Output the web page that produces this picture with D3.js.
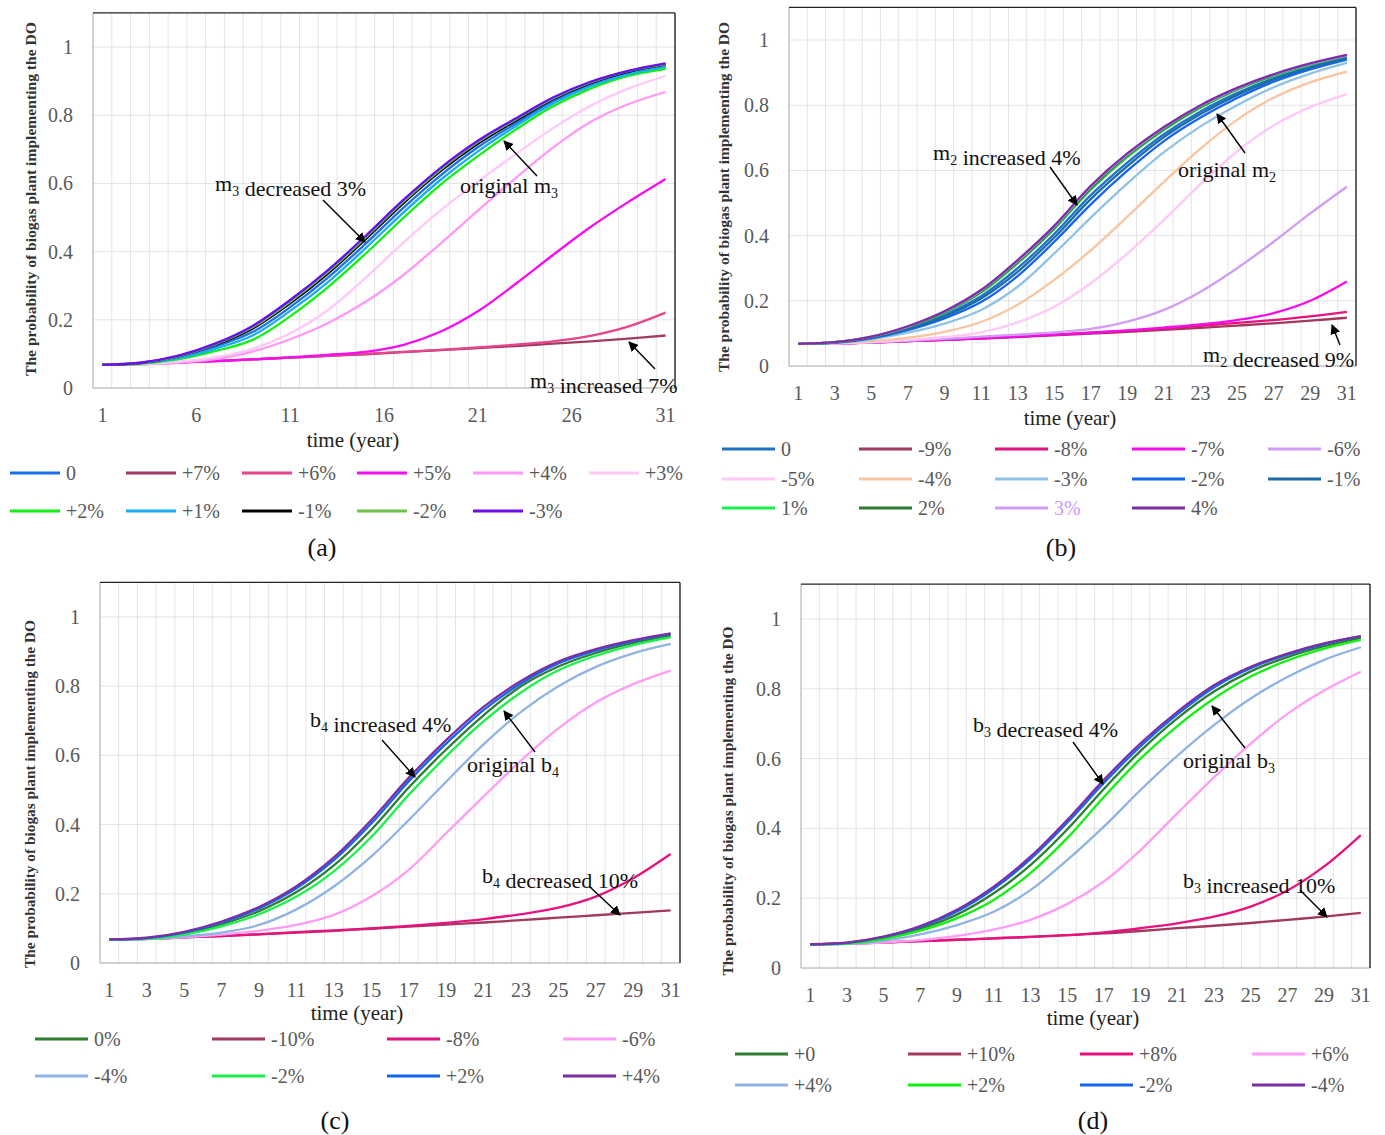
<!DOCTYPE html>
<meta charset="utf-8">
<style>
body { margin: 0; background: #fff; }
text { font-family: "Liberation Serif", "Times New Roman", serif; }
</style>
<svg width="1385" height="1135"></svg>
<script src="https://d3js.org/d3.v7.min.js"></script>
<script>

// ---- data ----
const categories = [1, 2, 3, 4, 5, 6, 7, 8, 9, 10, 11, 12, 13, 14, 15, 16, 17, 18, 19, 20, 21, 22, 23, 24, 25, 26, 27, 28, 29, 30, 31];
const years = [1, 3, 5, 7, 9, 11, 13, 15, 17, 19, 21, 23, 25, 27, 29, 31];
const yTicks = [0, 0.2, 0.4, 0.6, 0.8, 1];
const yTickLabels = ['0', '0.2', '0.4', '0.6', '0.8', '1'];
const xTicksA = [1, 6, 11, 16, 21, 26, 31];
const xTicksOdd = [1, 3, 5, 7, 9, 11, 13, 15, 17, 19, 21, 23, 25, 27, 29, 31];

// (a) m3
const labelsA = ['0', '+7%', '+6%', '+5%', '+4%', '+3%', '+2%', '+1%', '-1%', '-2%', '-3%'];
const valuesA = [
	[0.068, 0.073, 0.09, 0.121, 0.164, 0.237, 0.323, 0.422, 0.527, 0.623, 0.706, 0.775, 0.841, 0.89, 0.923, 0.945],
	[0.068, 0.071, 0.075, 0.079, 0.084, 0.089, 0.094, 0.099, 0.105, 0.111, 0.117, 0.123, 0.13, 0.137, 0.145, 0.154],
	[0.068, 0.071, 0.075, 0.079, 0.084, 0.089, 0.094, 0.1, 0.106, 0.112, 0.119, 0.127, 0.137, 0.153, 0.18, 0.221],
	[0.068, 0.07, 0.074, 0.079, 0.084, 0.09, 0.097, 0.106, 0.126, 0.165, 0.225, 0.305, 0.39, 0.472, 0.545, 0.613],
	[0.068, 0.069, 0.074, 0.085, 0.107, 0.143, 0.19, 0.252, 0.33, 0.423, 0.52, 0.615, 0.705, 0.78, 0.832, 0.868],
	[0.068, 0.07, 0.077, 0.09, 0.115, 0.16, 0.228, 0.322, 0.425, 0.52, 0.605, 0.685, 0.762, 0.828, 0.878, 0.915],
	[0.068, 0.071, 0.084, 0.108, 0.141, 0.21, 0.295, 0.393, 0.497, 0.596, 0.68, 0.757, 0.826, 0.878, 0.915, 0.936],
	[0.068, 0.072, 0.087, 0.115, 0.154, 0.226, 0.31, 0.409, 0.513, 0.61, 0.694, 0.767, 0.834, 0.885, 0.92, 0.942],
	[0.068, 0.073, 0.092, 0.126, 0.174, 0.248, 0.335, 0.435, 0.54, 0.635, 0.716, 0.783, 0.847, 0.894, 0.927, 0.949],
	[0.068, 0.074, 0.093, 0.128, 0.178, 0.253, 0.34, 0.44, 0.545, 0.64, 0.721, 0.787, 0.849, 0.896, 0.929, 0.95],
	[0.068, 0.074, 0.094, 0.13, 0.182, 0.258, 0.345, 0.445, 0.55, 0.645, 0.725, 0.79, 0.852, 0.898, 0.93, 0.952]
];

// (b) m2
const labelsB = ['0', '-9%', '-8%', '-7%', '-6%', '-5%', '-4%', '-3%', '-2%', '-1%', '1%', '2%', '3%', '4%'];
const valuesB = [
	[0.068, 0.072, 0.088, 0.116, 0.157, 0.214, 0.3, 0.405, 0.524, 0.624, 0.711, 0.781, 0.837, 0.883, 0.919, 0.947],
	[0.068, 0.069, 0.072, 0.076, 0.08, 0.084, 0.089, 0.094, 0.099, 0.105, 0.111, 0.117, 0.124, 0.131, 0.139, 0.148],
	[0.068, 0.069, 0.072, 0.076, 0.08, 0.085, 0.09, 0.096, 0.102, 0.108, 0.115, 0.123, 0.132, 0.141, 0.152, 0.166],
	[0.068, 0.069, 0.072, 0.076, 0.08, 0.085, 0.09, 0.096, 0.102, 0.109, 0.118, 0.128, 0.141, 0.162, 0.2, 0.259],
	[0.068, 0.069, 0.072, 0.077, 0.083, 0.09, 0.096, 0.103, 0.114, 0.136, 0.172, 0.228, 0.3, 0.381, 0.468, 0.55],
	[0.068, 0.069, 0.073, 0.08, 0.089, 0.103, 0.134, 0.182, 0.254, 0.345, 0.448, 0.558, 0.658, 0.738, 0.794, 0.834],
	[0.068, 0.07, 0.076, 0.087, 0.105, 0.135, 0.188, 0.264, 0.355, 0.458, 0.565, 0.667, 0.755, 0.823, 0.87, 0.903],
	[0.068, 0.071, 0.082, 0.102, 0.13, 0.172, 0.243, 0.345, 0.455, 0.56, 0.656, 0.735, 0.8, 0.855, 0.897, 0.93],
	[0.068, 0.072, 0.085, 0.11, 0.146, 0.196, 0.276, 0.381, 0.496, 0.599, 0.69, 0.762, 0.822, 0.872, 0.91, 0.94],
	[0.068, 0.072, 0.087, 0.114, 0.152, 0.207, 0.289, 0.394, 0.512, 0.613, 0.702, 0.773, 0.831, 0.878, 0.915, 0.944],
	[0.068, 0.073, 0.089, 0.12, 0.163, 0.225, 0.315, 0.42, 0.541, 0.641, 0.724, 0.792, 0.847, 0.89, 0.924, 0.951],
	[0.068, 0.073, 0.089, 0.12, 0.165, 0.228, 0.318, 0.423, 0.545, 0.645, 0.727, 0.795, 0.849, 0.892, 0.926, 0.952],
	[0.068, 0.073, 0.09, 0.121, 0.167, 0.231, 0.322, 0.427, 0.55, 0.649, 0.731, 0.798, 0.851, 0.894, 0.927, 0.953],
	[0.068, 0.073, 0.09, 0.122, 0.168, 0.233, 0.325, 0.43, 0.553, 0.652, 0.733, 0.8, 0.853, 0.895, 0.928, 0.954]
];

// (c) b4
const labelsC = ['0%', '-10%', '-8%', '-6%', '-4%', '-2%', '+2%', '+4%'];
const valuesC = [
	[0.068, 0.071, 0.085, 0.112, 0.15, 0.205, 0.282, 0.385, 0.507, 0.617, 0.716, 0.8, 0.857, 0.896, 0.925, 0.946],
	[0.068, 0.07, 0.074, 0.078, 0.083, 0.088, 0.093, 0.099, 0.105, 0.111, 0.117, 0.124, 0.131, 0.138, 0.145, 0.152],
	[0.068, 0.07, 0.074, 0.078, 0.083, 0.089, 0.094, 0.1, 0.107, 0.116, 0.127, 0.141, 0.16, 0.192, 0.245, 0.315],
	[0.068, 0.069, 0.074, 0.082, 0.093, 0.11, 0.139, 0.192, 0.269, 0.375, 0.481, 0.585, 0.678, 0.753, 0.806, 0.845],
	[0.068, 0.069, 0.077, 0.088, 0.11, 0.155, 0.221, 0.308, 0.413, 0.524, 0.632, 0.726, 0.8, 0.856, 0.895, 0.922],
	[0.068, 0.07, 0.082, 0.106, 0.141, 0.192, 0.265, 0.364, 0.486, 0.597, 0.698, 0.782, 0.846, 0.888, 0.919, 0.941],
	[0.068, 0.072, 0.088, 0.117, 0.158, 0.216, 0.297, 0.403, 0.525, 0.634, 0.731, 0.808, 0.866, 0.903, 0.93, 0.951],
	[0.068, 0.073, 0.09, 0.12, 0.162, 0.222, 0.305, 0.413, 0.535, 0.644, 0.74, 0.815, 0.871, 0.907, 0.933, 0.953]
];

// (d) b3
const labelsD = ['+0', '+10%', '+8%', '+6%', '+4%', '+2%', '-2%', '-4%'];
const valuesD = [
	[0.068, 0.071, 0.086, 0.113, 0.153, 0.214, 0.295, 0.397, 0.513, 0.622, 0.715, 0.792, 0.85, 0.891, 0.922, 0.946],
	[0.068, 0.07, 0.073, 0.077, 0.081, 0.085, 0.089, 0.094, 0.099, 0.106, 0.114, 0.121, 0.129, 0.138, 0.147, 0.158],
	[0.068, 0.07, 0.073, 0.077, 0.081, 0.085, 0.089, 0.094, 0.102, 0.114, 0.128, 0.147, 0.176, 0.222, 0.291, 0.381],
	[0.068, 0.069, 0.073, 0.08, 0.092, 0.11, 0.138, 0.183, 0.248, 0.338, 0.443, 0.546, 0.643, 0.728, 0.795, 0.849],
	[0.068, 0.069, 0.078, 0.096, 0.123, 0.161, 0.223, 0.309, 0.405, 0.51, 0.608, 0.696, 0.772, 0.834, 0.883, 0.919],
	[0.068, 0.07, 0.083, 0.107, 0.143, 0.195, 0.272, 0.372, 0.49, 0.6, 0.693, 0.772, 0.835, 0.881, 0.915, 0.94],
	[0.068, 0.072, 0.089, 0.118, 0.162, 0.227, 0.312, 0.416, 0.53, 0.636, 0.727, 0.804, 0.859, 0.898, 0.928, 0.95],
	[0.068, 0.073, 0.09, 0.12, 0.167, 0.233, 0.319, 0.424, 0.539, 0.644, 0.734, 0.81, 0.863, 0.901, 0.93, 0.951]
];

// ---- styles ----
const colorsA = ['#1a6ff0', '#a23b64', '#e8448c', '#f50cf0', '#ff99f5', '#ffc8f8', '#12f012', '#1aaef0', '#000000', '#6cc24a', '#6a0df0'];
const colorsB = ['#2070c8', '#a3385f', '#e8127f', '#f50ceb', '#d29cf5', '#ffc8f5', '#f9c4a0', '#90c2e6', '#1466f0', '#1c6ba8', '#1af04a', '#2e7d32', '#d09cf5', '#7b2fa5'];
const colorsC = ['#2e7d32', '#a3385f', '#e8127f', '#ff9cf5', '#8fb4e3', '#1af04a', '#1466f0', '#7b2fa5'];
const colorsD = ['#2e7d32', '#a3385f', '#e8127f', '#ff9cf5', '#8fb4e3', '#12f012', '#1466f0', '#7b2fa5'];

const svg = d3.select('svg');
svg.append('rect').attr('width', 1385).attr('height', 1135).attr('fill', '#fff');

svg.append('defs').append('marker')
	.attr('id', 'head')
	.attr('viewBox', '0 0 10 10')
	.attr('refX', 9).attr('refY', 5)
	.attr('markerWidth', 10).attr('markerHeight', 10)
	.attr('markerUnits', 'userSpaceOnUse')
	.attr('orient', 'auto')
	.append('path').attr('d', 'M0,0 L10,5 L0,10 Z').attr('fill', '#000');

const yTitle = 'The probability of biogas plant implementing the DO';

function panel(cfg) {
	const g = svg.append('g');
	const x = d3.scaleBand().domain(categories).range([cfg.left, cfg.right]);
	const cx = (t) => x(t) + x.bandwidth() / 2;
	const y = d3.scaleLinear().domain([0, 1.1]).range([cfg.zero, cfg.zero - 1.1 * cfg.unit]);

	// gridlines
	g.selectAll('.vg').data(categories.slice(1)).enter().append('line')
		.attr('x1', (d) => x(d)).attr('x2', (d) => x(d))
		.attr('y1', y(1.1)).attr('y2', y(0))
		.attr('stroke', '#e4e4e4');
	g.selectAll('.hg').data(yTicks.slice(1)).enter().append('line')
		.attr('x1', cfg.left).attr('x2', cfg.right)
		.attr('y1', (d) => y(d)).attr('y2', (d) => y(d))
		.attr('stroke', '#e4e4e4');

	// frame
	g.append('line').attr('x1', cfg.left).attr('x2', cfg.right).attr('y1', y(0)).attr('y2', y(0)).attr('stroke', '#a6a6a6');
	g.append('line').attr('x1', cfg.left).attr('x2', cfg.left).attr('y1', y(0)).attr('y2', y(1.1)).attr('stroke', '#a6a6a6');
	g.append('line').attr('x1', cfg.left).attr('x2', cfg.right).attr('y1', y(1.1)).attr('y2', y(1.1)).attr('stroke', '#222').attr('stroke-width', 1.4);
	g.append('line').attr('x1', cfg.right).attr('x2', cfg.right).attr('y1', y(0)).attr('y2', y(1.1)).attr('stroke', '#222').attr('stroke-width', 1.4);

	// axes (labels only)
	const ya = g.append('g').attr('transform', `translate(${cfg.left - 10},0)`)
		.call(d3.axisLeft(y).tickValues(yTicks).tickSize(0).tickPadding(10)
			.tickFormat((d, i) => yTickLabels[i]));
	const xa = g.append('g').attr('transform', `translate(0,${cfg.zero + 18})`)
		.call(d3.axisBottom(x).tickValues(cfg.xTicks).tickSize(0).tickPadding(2));
	[ya, xa].forEach((a) => {
		a.select('.domain').remove();
		a.attr('font-family', null).attr('font-size', null);
		a.selectAll('text').attr('font-size', 20).attr('fill', '#595959');
	});

	// series
	const line = d3.line()
		.x((d, i) => cx(years[i]))
		.y((d) => y(d))
		.curve(d3.curveCatmullRom.alpha(0.5));
	g.selectAll('.series').data(cfg.values).enter().append('path')
		.attr('d', line)
		.attr('fill', 'none')
		.attr('stroke', (d, i) => cfg.colors[i])
		.attr('stroke-width', 2.3)
		.attr('stroke-linejoin', 'round');

	// titles
	g.append('text')
		.attr('transform', `translate(${cfg.yTitle[0]},${cfg.yTitle[1]}) rotate(-90)`)
		.attr('text-anchor', 'middle')
		.attr('font-size', 14).attr('font-weight', 'bold').attr('fill', '#333')
		.attr('textLength', cfg.yTitle[2]).attr('lengthAdjust', 'spacingAndGlyphs')
		.text(yTitle);
	g.append('text')
		.attr('x', cfg.xTitle[0]).attr('y', cfg.xTitle[1])
		.attr('text-anchor', 'middle').attr('font-size', 21).attr('fill', '#222')
		.text('time (year)');
	g.append('text')
		.attr('x', cfg.tag[0]).attr('y', cfg.tag[1])
		.attr('text-anchor', 'middle').attr('font-size', 26).attr('fill', '#111')
		.text(cfg.tag[2]);

	// annotations
	cfg.notes.forEach((n) => {
		const t = g.append('text').attr('x', n.x).attr('y', n.y).attr('font-size', 22).attr('fill', '#111');
		n.parts.forEach((p) => {
			if (p[1]) {
				t.append('tspan').attr('font-size', 14).attr('dy', 5).text(p[0]);
				t.append('tspan').attr('dy', -5).text('');
			} else {
				t.append('tspan').text(p[0]);
			}
		});
		g.append('line')
			.attr('x1', n.arrow[0]).attr('y1', n.arrow[1])
			.attr('x2', n.arrow[2]).attr('y2', n.arrow[3])
			.attr('stroke', '#000').attr('stroke-width', 1.4)
			.attr('marker-end', 'url(#head)');
	});

	// legend
	const lg = cfg.legend;
	const item = g.selectAll('.leg').data(cfg.labels).enter().append('g')
		.attr('transform', (d, i) => `translate(${lg.cols[i % lg.cols.length]},${lg.rows[Math.floor(i / lg.cols.length)]})`);
	item.append('line')
		.attr('x1', 0).attr('x2', lg.len).attr('y1', 0).attr('y2', 0)
		.attr('stroke', (d, i) => cfg.colors[i]).attr('stroke-width', 3);
	item.append('text')
		.attr('x', lg.len + 6).attr('y', 7)
		.attr('font-size', 20)
		.attr('fill', (d) => (lg.tint && lg.tint[d]) || '#595959')
		.text((d) => d);
}

panel({
	left: 93, right: 675, zero: 388, unit: 341, xTicks: xTicksA,
	values: valuesA, colors: colorsA, labels: labelsA,
	yTitle: [36, 199, 354], xTitle: [353, 447], tag: [322, 556, '(a)'],
	legend: {cols: [10, 126, 242, 357, 473, 589], rows: [473, 511], len: 50},
	notes: [
		{parts: [['m'], ['3', 1], [' decreased 3%']], x: 215, y: 191, arrow: [323, 200, 365, 242]},
		{parts: [['original m'], ['3', 1]], x: 460, y: 193, arrow: [537, 176, 504, 141]},
		{parts: [['m'], ['3', 1], [' increased 7%']], x: 530, y: 388, arrow: [655, 369, 629, 342]}
	]
});

panel({
	left: 789, right: 1356, zero: 366, unit: 326, xTicks: xTicksOdd,
	values: valuesB, colors: colorsB, labels: labelsB,
	yTitle: [729, 197, 350], xTitle: [1070, 425], tag: [1061, 556, '(b)'],
	legend: {cols: [722, 859, 995, 1132, 1268], rows: [449, 479, 508], len: 53, tint: {'3%': '#cc99ff'}},
	notes: [
		{parts: [['m'], ['2', 1], [' increased 4%']], x: 933, y: 160, arrow: [1050, 167, 1077, 205]},
		{parts: [['original m'], ['2', 1]], x: 1178, y: 177, arrow: [1245, 153, 1217, 114]},
		{parts: [['m'], ['2', 1], [' decreased 9%']], x: 1203, y: 362, arrow: [1340, 345, 1332, 325]}
	]
});

panel({
	left: 100, right: 680, zero: 963, unit: 346, xTicks: xTicksOdd,
	values: valuesC, colors: colorsC, labels: labelsC,
	yTitle: [35, 794, 348], xTitle: [357, 1020], tag: [335, 1129, '(c)'],
	legend: {cols: [35, 212, 387, 563], rows: [1039, 1076], len: 53},
	notes: [
		{parts: [['b'], ['4', 1], [' increased 4%']], x: 310, y: 727, arrow: [382, 740, 415, 777]},
		{parts: [['original b'], ['4', 1]], x: 467, y: 772, arrow: [535, 752, 504, 711]},
		{parts: [['b'], ['4', 1], [' decreased 10%']], x: 482, y: 883, arrow: [590, 887, 620, 915]}
	]
});

panel({
	left: 801, right: 1370, zero: 968, unit: 349, xTicks: xTicksOdd,
	values: valuesD, colors: colorsD, labels: labelsD,
	yTitle: [733, 801, 349], xTitle: [1093, 1025], tag: [1093, 1129, '(d)'],
	legend: {cols: [735, 908, 1080, 1252], rows: [1054, 1085], len: 53},
	notes: [
		{parts: [['b'], ['3', 1], [' decreased 4%']], x: 973, y: 732, arrow: [1073, 742, 1103, 784]},
		{parts: [['original b'], ['3', 1]], x: 1183, y: 768, arrow: [1245, 748, 1212, 706]},
		{parts: [['b'], ['3', 1], [' increased 10%']], x: 1183, y: 888, arrow: [1300, 890, 1327, 917]}
	]
});

</script>
